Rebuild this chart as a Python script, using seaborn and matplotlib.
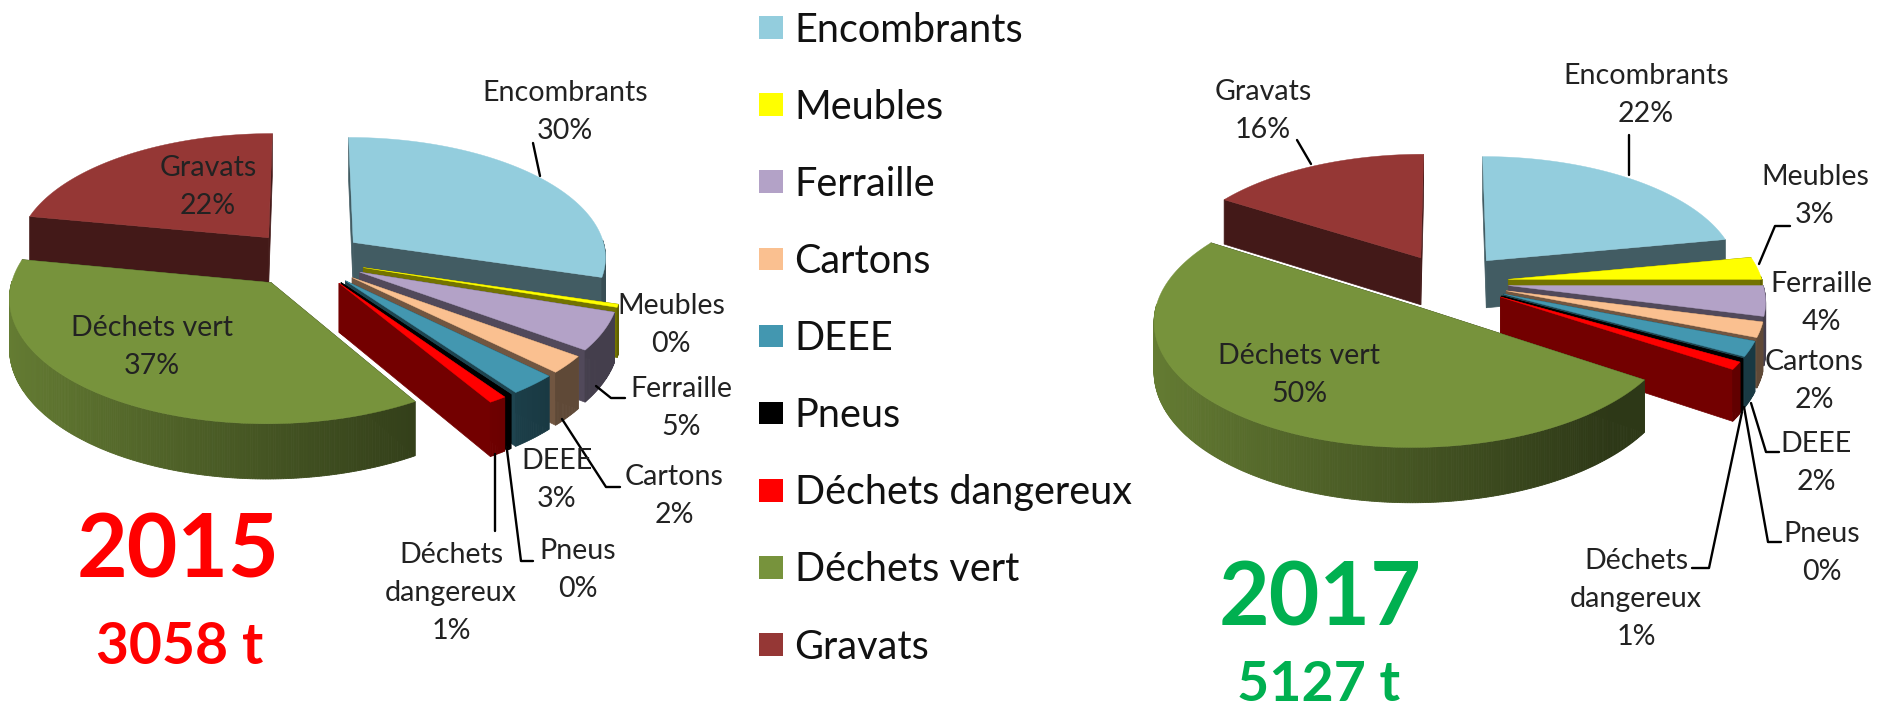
import numpy as np
import matplotlib
matplotlib.use("Agg")
import matplotlib.pyplot as plt
from matplotlib.patches import Patch
import seaborn as sns

# ---- data ----
categories = ["Encombrants", "Meubles", "Ferraille", "Cartons", "DEEE", "Pneus",
              "Déchets dangereux", "Déchets vert", "Gravats"]
values_2015 = [29.7, 0.4, 5.0, 2.3, 2.7, 0.3, 1.0, 36.6, 22.0]
values_2017 = [22.0, 3.0, 4.0, 2.0, 2.0, 0.3, 1.0, 49.7, 16.0]
colors = ["#93CDDD", "#FFFF00", "#B3A2C7", "#FAC090", "#4397B0", "#000000",
          "#FF0000", "#77933C", "#953735"]
year_2015, tons_2015 = "2015", "3058 t"
year_2017, tons_2017 = "2017", "5127 t"

sns.set_theme(style="white", rc={"axes.facecolor": "white", "figure.facecolor": "white"})
plt.rcParams["font.family"] = ["Lato", "DejaVu Sans"]
palette = sns.color_palette(colors)

W, H = 1877, 710
fig = plt.figure(figsize=(W / 100, H / 100), dpi=100)
ax = fig.add_axes([0, 0, 1, 1])

RX, K, P, DEPTH, EXPLODE = 254, 120, 0.11, 48, 0.235
DRAW_ORDER = [8, 0, 1, 2, 3, 4, 5, 6, 7]


def project(x, y, c, drop=0.0):
    s = 1 / (1 + P * y)
    return np.column_stack([c[0] + RX * x * s, c[1] - K * y * s + drop * s])


def draw_pie(values, c):
    wedges, _ = ax.pie(values, colors=palette, startangle=90, counterclock=False,
                       explode=[EXPLODE] * len(values), radius=1)
    geoms = [(w.theta1, w.theta2, w.center, w.r) for w in wedges]
    for w in wedges:
        w.remove()
    for i in DRAW_ORDER:
        t1, t2, (cx, cy), r = geoms[i]
        col = np.array(palette[i])
        th = np.radians(np.linspace(t1, t2, max(int((t2 - t1) * 2), 4)))
        xs, ys = cx + r * np.cos(th), cy + r * np.sin(th)
        top = project(xs, ys, c)
        bot = project(xs, ys, c, DEPTH)
        apex_t = project(np.array([cx]), np.array([cy]), c)
        apex_b = project(np.array([cx]), np.array([cy]), c, DEPTH)
        dark = col * 0.45
        for k in (0, -1):
            q = np.vstack([apex_t, top[k], bot[k], apex_b])
            ax.fill(q[:, 0], q[:, 1], color=dark, lw=0.5, zorder=2)
        for j in range(len(th) - 1):
            if np.sin(th[j]) > 0.02:  # the rim faces away from the viewer here
                continue
            f = np.interp(np.cos(th[j]), [-1, 0.7], [0.85, 0.38])
            q = np.vstack([top[j], top[j + 1], bot[j + 1], bot[j]])
            ax.fill(q[:, 0], q[:, 1], color=col * f, lw=0.6, zorder=2)
        poly = np.vstack([apex_t, top])
        ax.fill(poly[:, 0], poly[:, 1], color=col, lw=0.3, zorder=2)


draw_pie(values_2015, (306, 259))
draw_pie(values_2017, (1449, 282))

ax.set_aspect("auto")
ax.set_xlim(0, W)
ax.set_ylim(H, 0)
ax.axis("off")


def lab(name):
    return name.replace("Déchets dangereux", "Déchets\ndangereux")


LABEL_SIZE = 20.6
pos_2015 = [(565, 112), (671, 325), (681, 408), (674, 496), (557, 480), (578, 570),
            (451, 593), (152, 347), (208, 187)]
pos_2017 = [(1646, 95), (1815, 196), (1821, 303), (1814, 381), (1816, 463), (1822, 553),
            (1636, 599), (1299, 375), (1263, 111)]
for vals, pos in ((values_2015, pos_2015), (values_2017, pos_2017)):
    for name, v, (x, y) in zip(categories, vals, pos):
        ax.text(x, y, f"{lab(name)}\n{round(v)}%", ha="center", va="center",
                fontsize=LABEL_SIZE, color="#222222", linespacing=1.58, zorder=5)

leaders = [
    [(533, 143), (540, 176)],
    [(596, 386), (611, 398), (625, 398)],
    [(562, 419), (606, 487), (620, 487)],
    [(507, 450), (521, 561), (533, 561)],
    [(495, 454), (495, 531)],
    [(1629, 135), (1629, 175)],
    [(1790, 226), (1775, 226), (1759, 264)],
    [(1297, 140), (1311, 164)],
    [(1751, 403), (1766, 452), (1779, 452)],
    [(1744, 407), (1768, 542), (1781, 542)],
    [(1742, 412), (1709, 568), (1692, 568)],
]
for seg in leaders:
    a = np.array(seg)
    ax.plot(a[:, 0], a[:, 1], color="black", lw=1.7, zorder=4)

RED, GREEN = "#FF0000", "#00B050"
ax.text(178, 552, year_2015, color=RED, fontsize=63, fontweight="bold", ha="center", va="center")
ax.text(180, 647, tons_2015, color=RED, fontsize=41, fontweight="bold", ha="center", va="center")
ax.text(1320, 600, year_2017, color=GREEN, fontsize=63, fontweight="bold", ha="center", va="center")
ax.text(1319, 685, tons_2017, color=GREEN, fontsize=40, fontweight="bold", ha="center", va="center")

handles = [Patch(facecolor=c, edgecolor="none", label=n) for c, n in zip(palette, categories)]
leg = ax.legend(handles=handles, loc="upper left", bbox_to_anchor=(759 / W, 1 - 11.5 / H),
                bbox_transform=fig.transFigure, frameon=False, fontsize=28.5,
                handlelength=0.6, handleheight=0.5, handletextpad=0.3,
                labelspacing=1.014, borderpad=0, borderaxespad=0, labelcolor="#111111")

fig.savefig("out.png", dpi=100)
